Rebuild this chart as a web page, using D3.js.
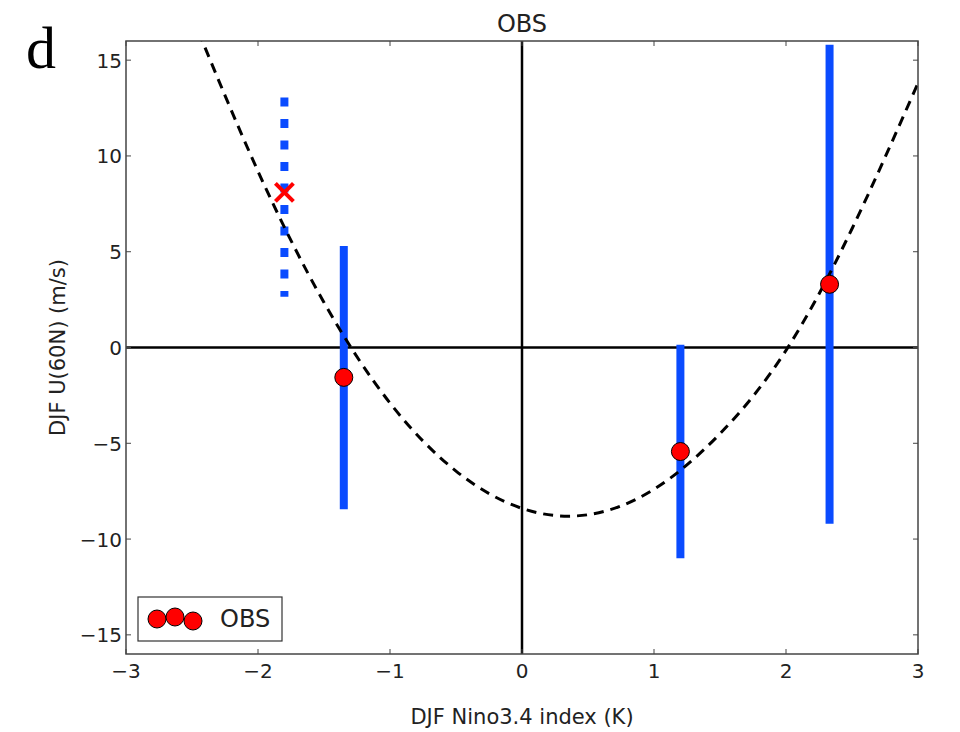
<!DOCTYPE html>
<html>
<head>
<meta charset="utf-8">
<script src="https://cdn.jsdelivr.net/npm/d3@7"></script>
<style>
  html, body { margin: 0; padding: 0; background: #fff; }
  svg { display: block; }
  text { font-family: "DejaVu Sans", sans-serif; fill: #222; }
</style>
</head>
<body>
<svg id="chart" width="960" height="732"></svg>
<script>
// Observed composites: ENSO index vs. DJF zonal wind at 60N
const obsX      = [-1.35, 1.20, 2.33];
const obsY      = [-1.56, -5.43, 3.30];
const obsLow    = [-8.45, -11.0, -9.20];
const obsHigh   = [5.30, 0.15, 15.80];

// Single extreme event, drawn with a cross and a dotted range
const eventX    = [-1.80];
const eventY    = [8.10];
const eventLow  = [2.65];
const eventHigh = [13.05];

// Quadratic fit curve, sampled
const fitX = [-2.5, -2.0, -1.5, -1.0, -0.5, 0.0, 0.5, 1.0, 1.5, 2.0, 2.5, 3.0];
const fitY = [17.3, 9.2, 2.35, -2.9, -6.45, -8.4, -8.73, -7.4, -4.5, -0.15, 6.2, 13.8];

const xTicks = [-3, -2, -1, 0, 1, 2, 3];
const yTicks = [-15, -10, -5, 0, 5, 10, 15];

const svg = d3.select("#chart");
const L = 126, R = 918, T = 41, B = 654;

const x = d3.scaleLinear().domain([-3, 3]).range([L, R]);
const y = d3.scaleLinear().domain([-16, 16]).range([B, T]);

svg.append("defs").append("clipPath").attr("id", "plot")
  .append("rect").attr("x", L).attr("y", T).attr("width", R - L).attr("height", B - T);

const plot = svg.append("g").attr("clip-path", "url(#plot)");

// zero lines
plot.append("line").attr("x1", L).attr("x2", R).attr("y1", y(0)).attr("y2", y(0))
  .attr("stroke", "#000").attr("stroke-width", 2.5);
plot.append("line").attr("x1", x(0)).attr("x2", x(0)).attr("y1", T).attr("y2", B)
  .attr("stroke", "#000").attr("stroke-width", 2.5);

const blue = "#0a4bff";

// dotted range for the single event
plot.selectAll(".evbar").data(eventX).join("line")
  .attr("x1", d => x(d)).attr("x2", d => x(d))
  .attr("y1", (d, i) => y(eventHigh[i])).attr("y2", (d, i) => y(eventLow[i]))
  .attr("stroke", blue).attr("stroke-width", 8)
  .attr("stroke-dasharray", "9 12.5");

// solid ranges
plot.selectAll(".bar").data(obsX).join("line")
  .attr("x1", d => x(d)).attr("x2", d => x(d))
  .attr("y1", (d, i) => y(obsHigh[i])).attr("y2", (d, i) => y(obsLow[i]))
  .attr("stroke", blue).attr("stroke-width", 8);

// fit curve
const line = d3.line().x(d => x(d[0])).y(d => y(d[1])).curve(d3.curveNatural);
plot.append("path").datum(fitX.map((v, i) => [v, fitY[i]]))
  .attr("d", line).attr("fill", "none").attr("stroke", "#000")
  .attr("stroke-width", 3).attr("stroke-dasharray", "10 7");

// event cross
plot.selectAll(".cross").data(eventX).join("path")
  .attr("d", (d, i) => {
    const cx = x(d), cy = y(eventY[i]), s = 9;
    return `M${cx - s},${cy - s}L${cx + s},${cy + s}M${cx - s},${cy + s}L${cx + s},${cy - s}`;
  })
  .attr("stroke", "#ff0000").attr("stroke-width", 4).attr("fill", "none");

// observed points
plot.selectAll(".pt").data(obsX).join("circle")
  .attr("cx", d => x(d)).attr("cy", (d, i) => y(obsY[i])).attr("r", 9)
  .attr("fill", "#ff0000").attr("stroke", "#000").attr("stroke-width", 1);

// frame
svg.append("rect").attr("x", L).attr("y", T).attr("width", R - L).attr("height", B - T)
  .attr("fill", "none").attr("stroke", "#444").attr("stroke-width", 1.5);

// inward ticks on all four sides
const tk = 5;
const tg = svg.append("g").attr("stroke", "#444").attr("stroke-width", 1);
xTicks.forEach(t => {
  tg.append("line").attr("x1", x(t)).attr("x2", x(t)).attr("y1", B).attr("y2", B - tk);
  tg.append("line").attr("x1", x(t)).attr("x2", x(t)).attr("y1", T).attr("y2", T + tk);
});
yTicks.forEach(t => {
  tg.append("line").attr("x1", L).attr("x2", L + tk).attr("y1", y(t)).attr("y2", y(t));
  tg.append("line").attr("x1", R).attr("x2", R - tk).attr("y1", y(t)).attr("y2", y(t));
});

const fmt = v => (v < 0 ? "\u2212" + Math.abs(v) : String(v));

svg.append("g").selectAll("text").data(xTicks).join("text")
  .attr("x", d => x(d)).attr("y", 678).attr("text-anchor", "middle")
  .attr("font-size", 20).text(fmt);

svg.append("g").selectAll("text").data(yTicks).join("text")
  .attr("x", 122).attr("y", d => y(d) + 7.5).attr("text-anchor", "end")
  .attr("font-size", 20).text(fmt);

// titles and labels
svg.append("text").attr("x", x(0)).attr("y", 32).attr("text-anchor", "middle")
  .attr("font-size", 24).text("OBS");
svg.append("text").attr("x", x(0)).attr("y", 724).attr("text-anchor", "middle")
  .attr("font-size", 21).text("DJF Nino3.4 index (K)");
svg.append("text").attr("transform", `translate(65,${y(0)}) rotate(-90)`)
  .attr("text-anchor", "middle").attr("font-size", 21).text("DJF U(60N) (m/s)");
svg.append("text").attr("x", 26).attr("y", 68)
  .style("font-family", "'Liberation Serif', 'DejaVu Serif', serif")
  .style("fill", "#000").attr("font-size", 60).text("d");

// legend
const lg = svg.append("g");
lg.append("rect").attr("x", 138).attr("y", 597).attr("width", 144).attr("height", 44)
  .attr("fill", "#fff").attr("stroke", "#333").attr("stroke-width", 1.2);
const legendDots = [[157, 619], [175, 617], [193, 621]];
lg.selectAll("circle").data(legendDots).join("circle")
  .attr("cx", d => d[0]).attr("cy", d => d[1]).attr("r", 9)
  .attr("fill", "#ff0000").attr("stroke", "#000").attr("stroke-width", 1);
lg.append("text").attr("x", 220).attr("y", 627).attr("font-size", 24).text("OBS");
</script>
</body>
</html>
